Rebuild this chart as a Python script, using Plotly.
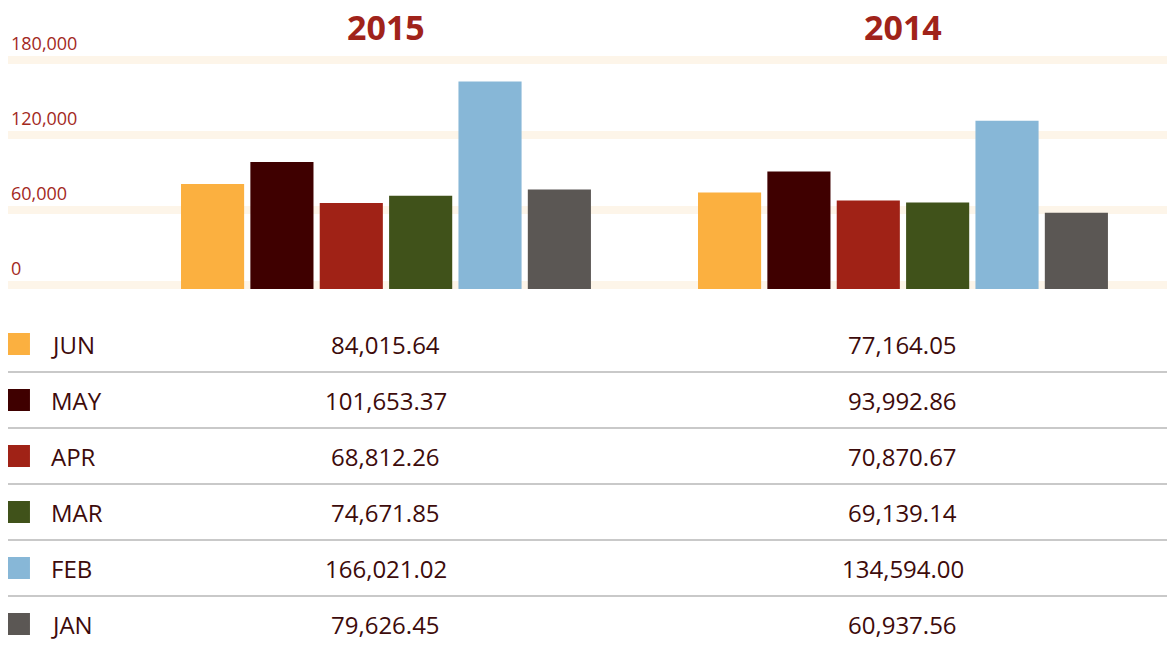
import plotly.graph_objects as go

YEARS = ["2015", "2014"]
MONTHS = ["JUN", "MAY", "APR", "MAR", "FEB", "JAN"]
VALUES_2015 = [84015.64, 101653.37, 68812.26, 74671.85, 166021.02, 79626.45]
VALUES_2014 = [77164.05, 93992.86, 70870.67, 69139.14, 134594.00, 60937.56]
COLORS = ["#fbb040", "#3f0000", "#a02216", "#40521a", "#87b7d7", "#5b5754"]
TICK_VALS = [0, 60000, 120000, 180000]
TICK_TEXT = ["0", "60,000", "120,000", "180,000"]

W, H = 1167, 648
FONT = "Open Sans"
TXT = "#3d0b0b"
RED = "#a3291d"

XR = [-0.7311, 1.5107]

fig = go.Figure()
for m, c, a, b in zip(MONTHS, COLORS, VALUES_2015, VALUES_2014):
    fig.add_trace(go.Bar(x=YEARS, y=[a, b], name=m, marker=dict(color=c, line=dict(width=0)),
                         xaxis="x", yaxis="y", hoverinfo="x+y+name"))

rows = list(range(len(MONTHS)))
fig.add_trace(go.Scatter(x=[-0.7099] * len(MONTHS), y=rows, mode="markers",
                         marker=dict(symbol="square", size=22, color=COLORS, line=dict(width=0)),
                         xaxis="x2", yaxis="y2", hoverinfo="skip"))

px_per_unit = 1.25 / 1000
band = 8 / px_per_unit

shapes = []
for v in TICK_VALS:
    shapes.append(dict(type="rect", xref="x domain", x0=0, x1=1, yref="y", y0=v, y1=v + band,
                       fillcolor="#fdf5e9", line=dict(width=0), layer="below"))
for i in rows[:-1]:
    shapes.append(dict(type="line", xref="x2 domain", x0=0, x1=1, yref="y2", y0=i + 0.5, y1=i + 0.5,
                       line=dict(color="#c9c9c9", width=2)))

ann = []
for k, yr in enumerate(YEARS):
    ann.append(dict(x=k, xref="x", y=1 - 27 / H, yref="paper", text="<b>%s</b>" % yr,
                    showarrow=False, xanchor="center", yanchor="middle",
                    font=dict(family=FONT, size=34, color="#a0231a")))
for i, (m, a, b) in enumerate(zip(MONTHS, VALUES_2015, VALUES_2014)):
    ann.append(dict(x=-0.6518, xref="x2", y=i, yref="y2", text=m, showarrow=False,
                    xanchor="left", yanchor="middle", font=dict(family=FONT, size=24, color=TXT)))
    for xv, val in ((0, a), (1, b)):
        ann.append(dict(x=xv, xref="x2", y=i, yref="y2", text=f"{val:,.2f}", showarrow=False,
                        xanchor="center", yanchor="middle", font=dict(family=FONT, size=24, color=TXT)))

zero_px = 289            # pixel of value 0
dom_bottom_px = 300      # pixel of chart domain bottom
y_lo = -(dom_bottom_px - zero_px) / px_per_unit
y_hi = zero_px / px_per_unit
row0_px, pitch = 344, 56
y2_bottom = (H - row0_px) / pitch
y2_top = (300 - row0_px) / pitch

fig.update_layout(
    width=W, height=H,
    margin=dict(l=8, r=0, t=0, b=0),
    paper_bgcolor="white", plot_bgcolor="rgba(0,0,0,0)",
    barmode="group", bargap=0.195, bargroupgap=0.09,
    showlegend=False,
    font=dict(family=FONT),
    xaxis=dict(type="category", range=XR, domain=[0, 1], anchor="y", showgrid=False,
               showticklabels=False, zeroline=False, showline=False, fixedrange=True),
    yaxis=dict(domain=[1 - dom_bottom_px / H, 1], range=[y_lo, y_hi], anchor="x",
               tickvals=TICK_VALS, ticktext=TICK_TEXT, ticklabelposition="inside top",
               ticklabelshift=-8, ticks="", showgrid=False, zeroline=False, showline=False,
               tickfont=dict(family=FONT, size=18, color=RED), fixedrange=True),
    xaxis2=dict(range=XR, domain=[0, 1], anchor="y2", visible=False, fixedrange=True),
    yaxis2=dict(domain=[0, 1 - 300 / H], range=[y2_bottom, y2_top], anchor="x2",
                visible=False, fixedrange=True),
    shapes=shapes, annotations=ann,
)

fig.write_html("out.html", config={"displayModeBar": False},
               post_script="document.body.style.margin='0px';")
